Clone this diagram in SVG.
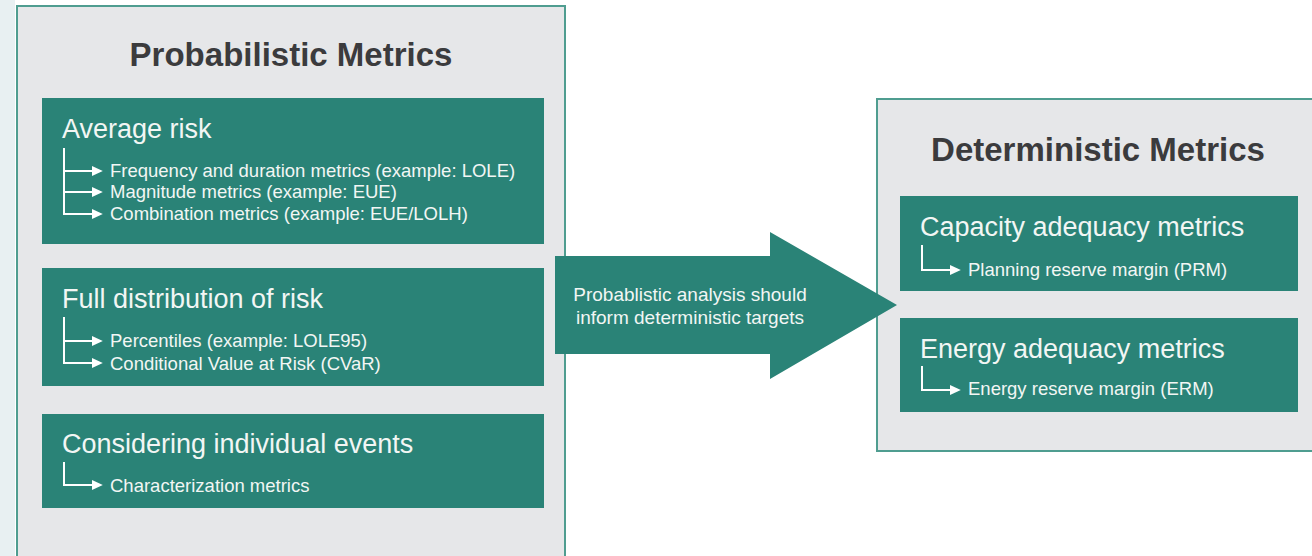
<svg xmlns="http://www.w3.org/2000/svg" width="1312" height="556" viewBox="0 0 1312 556">
<defs>
<style>
.panel{fill:#e6e7e9;stroke:#4f9d90;stroke-width:2}
.box{fill:#2a8377}
.title{font-family:"Liberation Sans",Arial,sans-serif;font-weight:bold;font-size:33px;fill:#3b3b3d;text-anchor:middle}
.head{font-family:"Liberation Sans",Arial,sans-serif;font-size:27px;fill:#f2f6f4}
.item{font-family:"Liberation Sans",Arial,sans-serif;font-size:18.5px;fill:#f2f6f4}
.arrowtxt{font-family:"Liberation Sans",Arial,sans-serif;font-size:19px;fill:#f2f6f4;text-anchor:middle}
.tree{fill:none;stroke:#ffffff;stroke-width:2}
</style>
<marker id="ah" viewBox="0 0 10 10" refX="2" refY="5" markerWidth="11" markerHeight="10" orient="auto" markerUnits="userSpaceOnUse" preserveAspectRatio="none">
<path d="M0,0 L10,5 L0,10 z" fill="#ffffff"/>
</marker>
</defs>
<rect x="0" y="0" width="1312" height="556" fill="#ffffff"/>
<rect x="0" y="0" width="15" height="556" fill="#e8f0f2"/>

<g id="probabilistic">
<rect class="panel" x="17" y="6" width="548" height="560"/>
<text class="title" x="291" y="66">Probabilistic Metrics</text>
</g>

<g id="average-risk">
<rect class="box" x="42" y="98" width="502" height="146"/>
<text class="head" x="62" y="138">Average risk</text>
<text class="item" x="110" y="177">Frequency and duration metrics (example: LOLE)</text>
<text class="item" x="110" y="198">Magnitude metrics (example: EUE)</text>
<text class="item" x="110" y="220">Combination metrics (example: EUE/LOLH)</text>
</g>

<g id="full-distribution">
<rect class="box" x="42" y="268" width="502" height="118"/>
<text class="head" x="62" y="308">Full distribution of risk</text>
<text class="item" x="110" y="347">Percentiles (example: LOLE95)</text>
<text class="item" x="110" y="370">Conditional Value at Risk (CVaR)</text>
</g>

<g id="individual-events">
<rect class="box" x="42" y="414" width="502" height="94"/>
<text class="head" x="62" y="453">Considering individual events</text>
<text class="item" x="110" y="492">Characterization metrics</text>
</g>

<g id="deterministic">
<rect class="panel" x="877" y="99" width="445" height="352"/>
<text class="title" x="1098" y="161">Deterministic Metrics</text>
</g>

<g id="capacity">
<rect class="box" x="900" y="196" width="398" height="95"/>
<text class="head" x="920" y="236">Capacity adequacy metrics</text>
<text class="item" x="968" y="276">Planning reserve margin (PRM)</text>
</g>

<g id="energy">
<rect class="box" x="900" y="318" width="398" height="94"/>
<text class="head" x="920" y="358">Energy adequacy metrics</text>
<text class="item" x="968" y="395">Energy reserve margin (ERM)</text>
</g>

<g id="connectors">
<path class="tree" d="M64,148 V214 H94" marker-end="url(#ah)"/>
<path class="tree" d="M64,171 H94" marker-end="url(#ah)"/>
<path class="tree" d="M64,192 H94" marker-end="url(#ah)"/>
<path class="tree" d="M64,317 V363 H94" marker-end="url(#ah)"/>
<path class="tree" d="M64,341 H94" marker-end="url(#ah)"/>
<path class="tree" d="M64,462 V485 H94" marker-end="url(#ah)"/>
<path class="tree" d="M922,245 V270 H952" marker-end="url(#ah)"/>
<path class="tree" d="M922,366 V390 H952" marker-end="url(#ah)"/>
<path id="big-arrow" d="M555,256 H770 V232 L897,305 L770,379 V354 H555 Z" fill="#2a8377"/>
<text class="arrowtxt" x="690" y="301">Probablistic analysis should</text>
<text class="arrowtxt" x="690" y="324">inform deterministic targets</text>
</g>
</svg>
